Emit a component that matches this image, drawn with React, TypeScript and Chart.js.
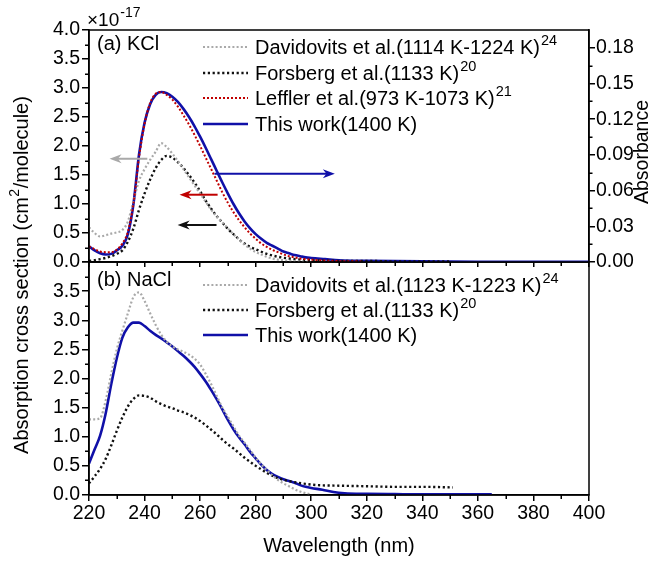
import React, { useEffect, useRef } from "react";
import { Chart, registerables } from "chart.js";

Chart.register(...registerables);

const FONT = "'Liberation Sans', Arial, Helvetica, sans-serif";
const TICK_FONT = { family: FONT, size: 19.5 };

const COLOR_GRAY = "#a9a9a9";
const COLOR_BLACK = "#111111";
const COLOR_RED = "#c00000";
const COLOR_BLUE = "#1010a8";

// ---------- (a) KCl ----------
const kclThisX = [220, 222, 224, 226, 228, 230, 232, 234, 236, 238, 240, 242, 244, 246, 248, 250, 252, 254, 256, 258, 260, 262, 264, 266, 268, 270, 272, 274, 276, 278, 280, 282, 284, 286, 288, 290, 292, 294, 296, 298, 300, 305, 310, 320, 340, 360, 380, 400];
const kclThisY = [0.27, 0.2, 0.15, 0.13, 0.14, 0.2, 0.28, 0.48, 1.0, 1.85, 2.4, 2.72, 2.88, 2.93, 2.91, 2.85, 2.76, 2.64, 2.5, 2.34, 2.16, 1.97, 1.77, 1.57, 1.37, 1.18, 1.0, 0.84, 0.7, 0.58, 0.48, 0.4, 0.33, 0.28, 0.23, 0.18, 0.15, 0.12, 0.1, 0.08, 0.07, 0.05, 0.03, 0.02, 0.01, 0.005, 0.003, 0.002];

const kclLefflerX = [220, 222, 224, 226, 228, 230, 232, 234, 236, 238, 240, 242, 244, 246, 248, 250, 252, 254, 256, 258, 260, 262, 264, 266, 268, 270, 272, 274, 276, 278, 280, 282, 284, 286, 288, 290, 292, 294, 296, 298, 300, 305, 310, 318];
const kclLefflerY = [0.27, 0.22, 0.18, 0.17, 0.17, 0.21, 0.32, 0.52, 1.0, 1.8, 2.38, 2.74, 2.9, 2.93, 2.88, 2.8, 2.68, 2.53, 2.37, 2.19, 2.0, 1.8, 1.6, 1.4, 1.2, 1.02, 0.86, 0.72, 0.6, 0.49, 0.4, 0.32, 0.26, 0.21, 0.17, 0.13, 0.1, 0.08, 0.06, 0.05, 0.04, 0.025, 0.015, 0.01];

const kclDavidX = [220, 222, 224, 226, 228, 230, 232, 234, 236, 238, 240, 242, 244, 246, 248, 250, 252, 254, 256, 258, 260, 262, 264, 266, 268, 270, 272, 274, 276, 278, 280, 282, 284, 286, 288, 290, 292, 294, 296, 298, 300];
const kclDavidY = [0.6, 0.5, 0.44, 0.46, 0.49, 0.51, 0.55, 0.7, 1.05, 1.4, 1.6, 1.76, 1.9, 2.05, 1.98, 1.87, 1.74, 1.6, 1.46, 1.32, 1.18, 1.04, 0.9, 0.78, 0.68, 0.58, 0.48, 0.39, 0.3, 0.23, 0.17, 0.13, 0.09, 0.06, 0.04, 0.03, 0.02, 0.015, 0.01, 0.005, 0];

const kclForsX = [220, 222, 224, 226, 228, 230, 232, 234, 236, 238, 240, 242, 244, 246, 248, 250, 252, 254, 256, 258, 260, 262, 264, 266, 268, 270, 272, 274, 276, 278, 280, 284, 288, 292, 296, 300, 310, 320, 330, 340, 350];
const kclForsY = [0.02, 0.03, 0.05, 0.07, 0.1, 0.14, 0.2, 0.35, 0.58, 0.9, 1.18, 1.42, 1.62, 1.76, 1.83, 1.8, 1.72, 1.62, 1.5, 1.37, 1.22, 1.06, 0.92, 0.79, 0.68, 0.57, 0.48, 0.39, 0.32, 0.26, 0.22, 0.14, 0.09, 0.06, 0.04, 0.03, 0.02, 0.02, 0.01, 0.01, 0.01];

// ---------- (b) NaCl ----------
const naclThisX = [220, 222, 224, 226, 228, 230, 232, 234, 236, 238, 240, 242, 244, 246, 248, 250, 252, 254, 256, 258, 260, 262, 264, 266, 268, 270, 272, 274, 276, 278, 280, 282, 284, 286, 288, 290, 292, 294, 296, 298, 300, 304, 308, 312, 320, 330, 345, 365];
const naclThisY = [0.54, 0.78, 1.02, 1.4, 1.9, 2.35, 2.7, 2.88, 2.96, 2.96, 2.9, 2.82, 2.75, 2.69, 2.62, 2.55, 2.47, 2.39, 2.3, 2.2, 2.08, 1.95, 1.8, 1.64, 1.47, 1.29, 1.13, 0.99, 0.87, 0.74, 0.63, 0.52, 0.43, 0.36, 0.31, 0.27, 0.24, 0.21, 0.17, 0.14, 0.12, 0.09, 0.05, 0.03, 0.02, 0.015, 0.01, 0.01];

const naclDavidX = [220, 222, 224, 226, 228, 230, 232, 234, 236, 238, 240, 242, 244, 246, 248, 250, 252, 254, 256, 258, 260, 262, 264, 266, 268, 270, 272, 274, 276, 278, 280, 282, 284, 286, 288, 290, 292, 294, 296, 298, 300];
const naclDavidY = [1.3, 1.3, 1.32, 1.62, 2.08, 2.5, 2.82, 3.12, 3.4, 3.48, 3.33, 3.12, 2.92, 2.75, 2.63, 2.55, 2.5, 2.46, 2.41, 2.34, 2.24, 2.08, 1.9, 1.7, 1.5, 1.34, 1.18, 1.02, 0.9, 0.77, 0.64, 0.53, 0.43, 0.34, 0.26, 0.2, 0.15, 0.1, 0.06, 0.03, 0.01];

const naclForsX = [220, 222, 224, 226, 228, 230, 232, 234, 236, 238, 240, 242, 244, 246, 248, 250, 252, 254, 256, 258, 260, 262, 264, 266, 268, 270, 272, 274, 276, 278, 280, 282, 284, 286, 288, 290, 294, 298, 302, 310, 320, 330, 340, 351];
const naclForsY = [0.2, 0.32, 0.45, 0.62, 0.85, 1.1, 1.33, 1.52, 1.65, 1.71, 1.7, 1.67, 1.61, 1.56, 1.52, 1.49, 1.45, 1.42, 1.38, 1.33, 1.27, 1.2, 1.12, 1.04, 0.95, 0.87, 0.8, 0.72, 0.64, 0.57, 0.5, 0.44, 0.38, 0.33, 0.29, 0.26, 0.22, 0.19, 0.17, 0.16, 0.15, 0.14, 0.14, 0.13];

// ---------- axes ----------
const xMinorTicks = [230, 250, 270, 290, 310, 330, 350, 370, 390];
const yMinorTicks = [0.25, 0.75, 1.25, 1.75, 2.25, 2.75, 3.25, 3.75];
const absMinorTicks = [0.015, 0.045, 0.075, 0.105, 0.135, 0.165];

// arrows in KCl panel (y value, tail x, head x)
const kclArrows = [
  { color: COLOR_GRAY, y: 1.78, from: 241, to: 227.4 },
  { color: COLOR_BLUE, y: 1.52, from: 265.2, to: 308.5 },
  { color: COLOR_RED, y: 1.16, from: 266.3, to: 252.6 },
  { color: COLOR_BLACK, y: 0.64, from: 265.9, to: 251.9 },
];

type Style = { color: string; width: number; dash: number[] };
const S_GRAY: Style = { color: COLOR_GRAY, width: 2.2, dash: [2, 2.2] };
const S_BLACK: Style = { color: COLOR_BLACK, width: 2.4, dash: [2.2, 2.6] };
const S_RED: Style = { color: COLOR_RED, width: 2.0, dash: [2, 2] };
const S_BLUE: Style = { color: COLOR_BLUE, width: 2.6, dash: [] };

const kclLegend = [
  { style: S_GRAY, text: "Davidovits et al.(1114 K-1224 K)", sup: "24" },
  { style: S_BLACK, text: "Forsberg et al.(1133 K)", sup: "20" },
  { style: S_RED, text: "Leffler et al.(973 K-1073 K)", sup: "21" },
  { style: S_BLUE, text: "This work(1400 K)", sup: "" },
];
const naclLegend = [
  { style: S_GRAY, text: "Davidovits et al.(1123 K-1223 K)", sup: "24" },
  { style: S_BLACK, text: "Forsberg et al.(1133 K)", sup: "20" },
  { style: S_BLUE, text: "This work(1400 K)", sup: "" },
];

function pts(xs: number[], ys: number[]) {
  return xs.map((x, i) => ({ x, y: ys[i] }));
}

function ds(label: string, xs: number[], ys: number[], s: Style) {
  return {
    label,
    data: pts(xs, ys),
    borderColor: s.color,
    borderWidth: s.width,
    borderDash: s.dash,
    borderCapStyle: "butt" as const,
    pointRadius: 0,
    fill: false,
    cubicInterpolationMode: "monotone" as const,
  };
}

function supText(ctx: CanvasRenderingContext2D, x: number, y: number, main: string, sup: string, size: number, supSize: number, raise: number) {
  ctx.font = `${size}px ${FONT}`;
  ctx.fillText(main, x, y);
  const w = ctx.measureText(main).width;
  if (sup) {
    ctx.font = `${supSize}px ${FONT}`;
    ctx.fillText(sup, x + w + 1, y - raise);
  }
}

function drawLegend(ctx: CanvasRenderingContext2D, a: any, items: any[], rows: number[]) {
  ctx.save();
  ctx.textBaseline = "middle";
  ctx.textAlign = "left";
  items.forEach((it, i) => {
    const y = a.top + rows[i];
    ctx.strokeStyle = it.style.color;
    ctx.lineWidth = it.style.width;
    ctx.setLineDash(it.style.dash);
    ctx.lineCap = "butt";
    ctx.beginPath();
    ctx.moveTo(a.left + 114, y);
    ctx.lineTo(a.left + 159, y);
    ctx.stroke();
    ctx.setLineDash([]);
    ctx.fillStyle = "#000";
    supText(ctx, a.left + 166, y + 1, it.text, it.sup, 20, 14.5, 7);
  });
  ctx.restore();
}

function minorTicks(ctx: CanvasRenderingContext2D, scale: any, values: number[], side: string, len: number) {
  ctx.save();
  ctx.strokeStyle = "#000";
  ctx.lineWidth = 1.5;
  ctx.beginPath();
  for (const v of values) {
    const p = Math.round(scale.getPixelForValue(v)) + 0.25;
    if (side === "bottom") {
      ctx.moveTo(p, scale.top);
      ctx.lineTo(p, scale.top + len);
    } else if (side === "left") {
      ctx.moveTo(scale.right, p);
      ctx.lineTo(scale.right - len, p);
    } else {
      ctx.moveTo(scale.left, p);
      ctx.lineTo(scale.left + len, p);
    }
  }
  ctx.stroke();
  ctx.restore();
}

function frame(ctx: CanvasRenderingContext2D, a: any) {
  ctx.save();
  ctx.strokeStyle = "#000";
  ctx.lineWidth = 1.5;
  ctx.strokeRect(a.left, a.top, a.right - a.left, a.bottom - a.top);
  ctx.restore();
}

function arrow(ctx: CanvasRenderingContext2D, x1: number, y: number, x2: number, color: string) {
  const dir = Math.sign(x2 - x1);
  const hl = 12;
  const hh = 4.5;
  ctx.save();
  ctx.strokeStyle = color;
  ctx.fillStyle = color;
  ctx.lineWidth = 2;
  ctx.beginPath();
  ctx.moveTo(x1, y);
  ctx.lineTo(x2 - dir * hl * 0.6, y);
  ctx.stroke();
  ctx.beginPath();
  ctx.moveTo(x2, y);
  ctx.lineTo(x2 - dir * hl, y - hh);
  ctx.lineTo(x2 - dir * hl * 0.7, y);
  ctx.lineTo(x2 - dir * hl, y + hh);
  ctx.closePath();
  ctx.fill();
  ctx.restore();
}

const axisGrid = (len: number) => ({
  display: true,
  drawOnChartArea: false,
  drawTicks: true,
  tickLength: len,
  color: "#000",
  lineWidth: 1.5,
});
const axisBorder = { display: true, color: "#000", width: 1.5 };

const topPlugin = {
  id: "topDeco",
  afterDatasetsDraw(chart: any) {
    const { ctx, scales } = chart;
    for (const ar of kclArrows) {
      arrow(ctx, scales.x.getPixelForValue(ar.from), scales.y.getPixelForValue(ar.y), scales.x.getPixelForValue(ar.to), ar.color);
    }
  },
  afterDraw(chart: any) {
    const { ctx, chartArea: a, scales } = chart;
    frame(ctx, a);
    minorTicks(ctx, scales.x, xMinorTicks, "bottom", 4);
    minorTicks(ctx, scales.y, yMinorTicks, "left", 4);
    minorTicks(ctx, scales.yAbs, absMinorTicks, "right", 3.5);
    drawLegend(ctx, a, kclLegend, [17, 43, 68, 94]);
    ctx.save();
    ctx.fillStyle = "#000";
    ctx.textBaseline = "middle";
    ctx.textAlign = "left";
    ctx.font = `20px ${FONT}`;
    ctx.fillText("(a) KCl", a.left + 8, a.top + 14);
    ctx.textBaseline = "alphabetic";
    supText(ctx, a.left - 2, a.top - 4, "\u00d710", "-17", 19, 14, 9);
    // right title
    ctx.translate(643, 152);
    ctx.rotate(-Math.PI / 2);
    ctx.textAlign = "center";
    ctx.textBaseline = "middle";
    ctx.font = `19.5px ${FONT}`;
    ctx.fillText("Absorbance", 0, 0);
    ctx.restore();
  },
};

const botPlugin = {
  id: "botDeco",
  afterDraw(chart: any) {
    const { ctx, chartArea: a, scales } = chart;
    frame(ctx, a);
    minorTicks(ctx, scales.x, xMinorTicks, "bottom", 4);
    minorTicks(ctx, scales.y, yMinorTicks, "left", 4);
    drawLegend(ctx, a, naclLegend, [23, 48, 73]);
    ctx.save();
    ctx.fillStyle = "#000";
    ctx.textBaseline = "middle";
    ctx.textAlign = "left";
    ctx.font = `20px ${FONT}`;
    ctx.fillText("(b) NaCl", a.left + 8, a.top + 18);
    // x title
    ctx.textAlign = "center";
    ctx.textBaseline = "alphabetic";
    ctx.fillText("Wavelength (nm)", (a.left + a.right) / 2, 552);
    // left title (spans both panels)
    ctx.translate(22, 275);
    ctx.rotate(-Math.PI / 2);
    ctx.textAlign = "left";
    ctx.textBaseline = "middle";
    const p1 = "Absorption cross section (cm";
    const p2 = "2";
    const p3 = "/molecule)";
    ctx.font = `20px ${FONT}`;
    const w1 = ctx.measureText(p1).width;
    const w3 = ctx.measureText(p3).width;
    ctx.font = `14px ${FONT}`;
    const w2 = ctx.measureText(p2).width;
    const total = w1 + w2 + w3 + 1;
    let x = -total / 2;
    ctx.font = `20px ${FONT}`;
    ctx.fillText(p1, x, 0);
    x += w1;
    ctx.font = `14px ${FONT}`;
    ctx.fillText(p2, x + 0.5, -7);
    x += w2 + 1;
    ctx.font = `20px ${FONT}`;
    ctx.fillText(p3, x, 0);
    ctx.restore();
  },
};

function topConfig(): any {
  return {
    type: "line",
    data: {
      datasets: [
        ds("Leffler", kclLefflerX, kclLefflerY, S_RED),
        ds("Davidovits", kclDavidX, kclDavidY, S_GRAY),
        ds("Forsberg", kclForsX, kclForsY, S_BLACK),
        ds("This work", kclThisX, kclThisY, S_BLUE),
      ],
    },
    options: {
      animation: false,
      responsive: false,
      devicePixelRatio: 1,
      layout: { padding: { top: 30, left: 0, right: 0, bottom: 0 } },
      plugins: { legend: { display: false }, tooltip: { enabled: false }, title: { display: false } },
      scales: {
        x: {
          type: "linear",
          position: "bottom",
          min: 220,
          max: 400,
          grid: axisGrid(5),
          border: axisBorder,
          ticks: { stepSize: 20, autoSkip: false, callback: () => "", font: TICK_FONT },
          afterFit: (s: any) => { s.height = 299; },
        },
        y: {
          type: "linear",
          position: "left",
          min: 0,
          max: 4,
          grid: axisGrid(7),
          border: axisBorder,
          ticks: { stepSize: 0.5, color: "#000", font: TICK_FONT, padding: 2, callback: (v: any) => Number(v).toFixed(1) },
          afterFit: (s: any) => { s.width = 89; },
        },
        yAbs: {
          type: "linear",
          position: "right",
          min: 0,
          max: 0.195,
          grid: axisGrid(6),
          border: axisBorder,
          ticks: { stepSize: 0.03, includeBounds: false, color: "#000", font: TICK_FONT, padding: 1, callback: (v: any) => Number(v).toFixed(2) },
          afterFit: (s: any) => { s.width = 62; },
        },
      },
    },
    plugins: [topPlugin],
  };
}

function botConfig(): any {
  return {
    type: "line",
    data: {
      datasets: [
        ds("Davidovits", naclDavidX, naclDavidY, S_GRAY),
        ds("Forsberg", naclForsX, naclForsY, S_BLACK),
        ds("This work", naclThisX, naclThisY, S_BLUE),
      ],
    },
    options: {
      animation: false,
      responsive: false,
      devicePixelRatio: 1,
      layout: { padding: { top: 262, left: 0, right: 62, bottom: 0 } },
      plugins: { legend: { display: false }, tooltip: { enabled: false }, title: { display: false } },
      scales: {
        x: {
          type: "linear",
          position: "bottom",
          min: 220,
          max: 400,
          grid: axisGrid(6),
          border: axisBorder,
          ticks: { stepSize: 20, autoSkip: false, maxRotation: 0, color: "#000", font: TICK_FONT, padding: 1 },
          afterFit: (s: any) => { s.height = 66; },
        },
        y: {
          type: "linear",
          position: "left",
          min: 0,
          max: 4,
          grid: axisGrid(7),
          border: axisBorder,
          ticks: { stepSize: 0.5, color: "#000", font: TICK_FONT, padding: 2, callback: (v: any) => (Number(v) > 3.9 ? "" : Number(v).toFixed(1)) },
          afterFit: (s: any) => { s.width = 89; },
        },
      },
    },
    plugins: [botPlugin],
  };
}

export default function App() {
  const topRef = useRef<HTMLCanvasElement>(null);
  const botRef = useRef<HTMLCanvasElement>(null);
  useEffect(() => {
    const bot = new Chart(botRef.current as HTMLCanvasElement, botConfig());
    const top = new Chart(topRef.current as HTMLCanvasElement, topConfig());
    return () => {
      top.destroy();
      bot.destroy();
    };
  }, []);
  return (
    <div style={{ position: "absolute", left: 0, top: 0, width: 651, height: 561, background: "#fff" }}>
      <canvas ref={botRef} width={651} height={561} style={{ position: "absolute", left: 0, top: 0 }} />
      <canvas ref={topRef} width={651} height={561} style={{ position: "absolute", left: 0, top: 0 }} />
    </div>
  );
}
